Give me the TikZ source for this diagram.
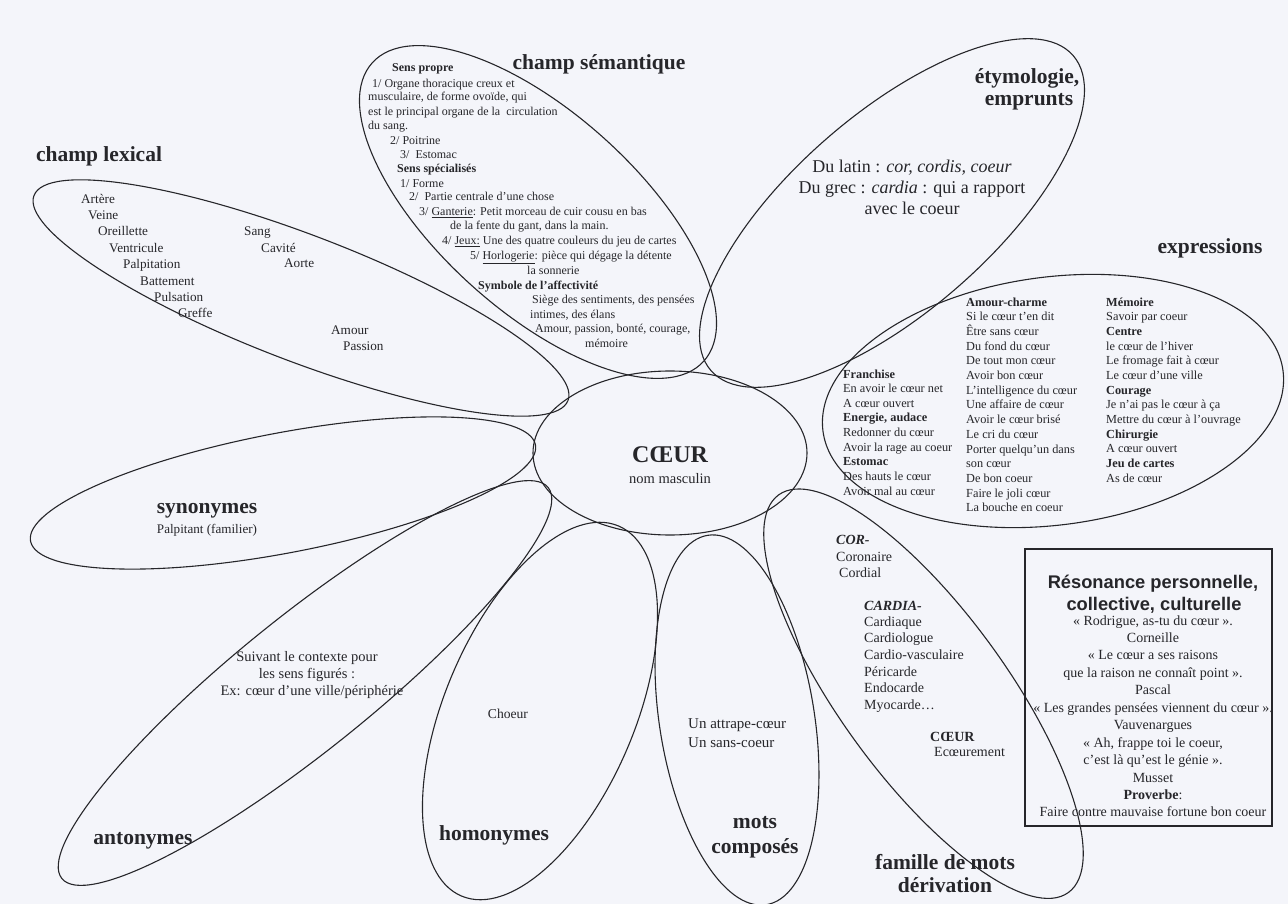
\documentclass[tikz,border=0pt]{standalone}
\usepackage{fontspec}
\setmainfont{Liberation Serif}
\newfontfamily\arialf{Liberation Sans}
\usetikzlibrary{shapes.geometric}
\definecolor{bg}{RGB}{244,245,250}
\definecolor{ink}{RGB}{38,38,42}
\begin{document}
\begin{tikzpicture}[x=1pt,y=-1pt,
  petal/.style={draw=ink, line width=1.1pt, ellipse, inner sep=0pt, outer sep=0pt},
  head/.style={font=\fontsize{21.5}{22}\selectfont\bfseries, text=ink, anchor=base, inner sep=0pt},
  lx/.style={font=\fontsize{13.2}{16}\selectfont, text=ink, anchor=base west, inner sep=0pt},
  cs/.style={font=\fontsize{12}{14}\selectfont, text=ink, anchor=base west, inner sep=0pt},
  ex/.style={font=\fontsize{12.3}{14.7}\selectfont, text=ink, anchor=base west, inner sep=0pt},
  fm/.style={font=\fontsize{14}{16}\selectfont, text=ink, anchor=base west, inner sep=0pt},
  ety/.style={font=\fontsize{18}{21}\selectfont, text=ink, anchor=base, inner sep=0pt},
  rs/.style={font=\fontsize{14}{17}\selectfont, text=ink, anchor=base, inner sep=0pt},
  rt/.style={font=\arialf\fontsize{18.3}{22}\selectfont\bfseries, text=ink, anchor=base, inner sep=0pt},
  ct/.style={font=\fontsize{14.5}{17}\selectfont, text=ink, anchor=base, inner sep=0pt}
]
\fill[bg] (0,0) rectangle (1288,904);
\useasboundingbox (0,0) rectangle (1288,904);

% petals
\node[petal, minimum width=572, minimum height=126, rotate=-21] (lexical) at (301,298) {};
\node[petal, minimum width=446, minimum height=198, rotate=-42] (semantique) at (538,212) {};
\node[petal, minimum width=480, minimum height=198, rotate=41] (etymo) at (892,213) {};
\node[petal, minimum width=464, minimum height=248, rotate=7.5] (expr) at (1053,401) {};
\node[petal, minimum width=514, minimum height=120, rotate=10.8] (syno) at (283,493) {};
\node[petal, minimum width=624, minimum height=134, rotate=38.8] (anto) at (305,683) {};
\node[petal, minimum width=402, minimum height=190, rotate=67] (homo) at (540,711) {};
\node[petal, minimum width=374, minimum height=155, rotate=99] (mots) at (737,720) {};
\node[petal, minimum width=492, minimum height=166, rotate=-53.9] (famille) at (923.5,693.7) {};
\node[petal, minimum width=274, minimum height=164] (coeur) at (670,453) {};

% centre
\node[font=\fontsize{24}{26}\selectfont\bfseries, text=ink, anchor=base, inner sep=0pt] (ctitle) at (670,462) {CŒUR};
\node[ct] (csub) at (670,483) {nom masculin};

% headings
\node[head] (hlex) at (99,162) {champ lexical};
\node[head] (hsem) at (599,70) {champ sémantique};
\node[head] (hety1) at (1027,84) {étymologie,};
\node[head] (hety2) at (1029,106) {emprunts};
\node[head] (hexp) at (1210,254) {expressions};
\node[head] (hsyn) at (207,513) {synonymes};
\node[head] (hant) at (143,844) {antonymes};
\node[head] (hhom) at (494,840) {homonymes};
\node[head] (hmot1) at (755,828) {mots};
\node[head] (hmot2) at (755,853) {composés};
\node[head] (hfam1) at (945,869) {famille de mots};
\node[head] (hfam2) at (945,892) {dérivation};

% champ lexical
\node[lx] (l1) at (81,204) {Artère};
\node[lx] (l2) at (88,220) {Veine};
\node[lx] (l3) at (98,236) {Oreillette};
\node[lx] (l4) at (109,253) {Ventricule};
\node[lx] (l5) at (123,269) {Palpitation};
\node[lx] (l6) at (140,285) {Battement};
\node[lx] (l7) at (154,301) {Pulsation};
\node[lx] (l8) at (178,317) {Greffe};
\node[lx] (l9) at (244,236) {Sang};
\node[lx] (l10) at (261,252) {Cavité};
\node[lx] (l11) at (284,268) {Aorte};
\node[lx] (l12) at (331,334) {Amour};
\node[lx] (l13) at (343,350) {Passion};

% champ semantique
\node[cs] (s1) at (392,72) {\textbf{Sens propre}};
\node[cs] (s2) at (372,88) {1/ Organe thoracique creux et};
\node[cs] (s3) at (368,101) {musculaire, de forme ovoïde, qui};
\node[cs] (s4) at (368,116) {est le principal organe de la\ \ circulation};
\node[cs] (s5) at (368,130) {du sang.};
\node[cs] (s6) at (390,145) {2/ Poitrine};
\node[cs] (s7) at (400,159) {3/\ \ Estomac};
\node[cs] (s8) at (397,173) {\textbf{Sens spécialisés}};
\node[cs] (s9) at (400,188) {1/ Forme};
\node[cs] (s10) at (409,201) {2/\ \ Partie centrale d’une chose};
\node[cs] (s11) at (419,216) {3/ \underline{Ganterie}: Petit morceau de cuir cousu en bas};
\node[cs] (s12) at (450,230) {de la fente du gant, dans la main.};
\node[cs] (s13) at (442,245) {4/ \underline{Jeux:} Une des quatre couleurs du jeu de cartes};
\node[cs] (s14) at (470,259) {5/ \underline{Horlogerie}: pièce qui dégage la détente};
\node[cs] (s15) at (527,275) {la sonnerie};
\node[cs] (s16) at (478,289) {\textbf{Symbole de l’affectivité}};
\node[cs] (s17) at (532,303) {Siège des sentiments, des pensées};
\node[cs] (s18) at (530,318) {intimes, des élans};
\node[cs] (s19) at (535,332) {Amour, passion, bonté, courage,};
\node[cs] (s20) at (585,347) {mémoire};

% etymologie
\node[ety] (e1) at (912,173) {Du latin : \textit{cor, cordis, coeur}};
\node[ety] (e2) at (912,194) {Du grec : \textit{cardia} : qui a rapport};
\node[ety] (e3) at (912,215) {avec le coeur};

% expressions
\foreach [count=\i from 0] \t in {{\textbf{Franchise}},{En avoir le cœur net},{A cœur ouvert},{\textbf{Energie, audace}},{Redonner du cœur},{Avoir la rage au coeur},{\textbf{Estomac}},{Des hauts le cœur},{Avoir mal au cœur}}
  \node[ex] (xa\i) at (843,378+\i*14.65) {\t};
\foreach [count=\i from 0] \t in {{\textbf{Amour-charme}},{Si le cœur t’en dit},{Être sans cœur},{Du fond du cœur},{De tout mon cœur},{Avoir bon cœur},{L’intelligence du cœur},{Une affaire de cœur},{Avoir le cœur brisé},{Le cri du cœur},{Porter quelqu’un dans},{son cœur},{De bon coeur},{Faire le joli cœur},{La bouche en coeur}}
  \node[ex] (xb\i) at (966,306+\i*14.7) {\t};
\foreach [count=\i from 0] \t in {{\textbf{Mémoire}},{Savoir par coeur},{\textbf{Centre}},{le cœur de l’hiver},{Le fromage fait à cœur},{Le cœur d’une ville},{\textbf{Courage}},{Je n’ai pas le cœur à ça},{Mettre du cœur à l’ouvrage},{\textbf{Chirurgie}},{A cœur ouvert},{\textbf{Jeu de cartes}},{As de cœur}}
  \node[ex] (xc\i) at (1106,306+\i*14.67) {\t};

% synonymes / antonymes / homonymes / mots composes
\node[font=\fontsize{13.1}{15}\selectfont, text=ink, anchor=base, inner sep=0pt] (syn1) at (207,533) {Palpitant (familier)};
\node[ct] (a1) at (307,661) {Suivant le contexte pour};
\node[ct] (a2) at (307,678) {les sens figurés :};
\node[ct] (a3) at (312,695) {Ex: cœur d’une ville/périphérie};
\node[font=\fontsize{13.6}{15}\selectfont, text=ink, anchor=base, inner sep=0pt] (h1) at (508,718) {Choeur};
\node[font=\fontsize{15}{19}\selectfont, text=ink, anchor=base west, inner sep=0pt] (m1) at (688,728) {Un attrape-cœur};
\node[font=\fontsize{15}{19}\selectfont, text=ink, anchor=base west, inner sep=0pt] (m2) at (688,747) {Un sans-coeur};

% famille de mots
\node[fm] (f1) at (836,544) {\textbf{\textit{COR-}}};
\node[fm] (f2) at (836,561) {Coronaire};
\node[fm] (f3) at (839,577) {Cordial};
\node[fm] (f4) at (864,610) {\textbf{\textit{CARDIA-}}};
\node[fm] (f5) at (864,626) {Cardiaque};
\node[fm] (f6) at (864,642) {Cardiologue};
\node[fm] (f7) at (864,659) {Cardio-vasculaire};
\node[fm] (f8) at (864,676) {Péricarde};
\node[fm] (f9) at (864,692) {Endocarde};
\node[fm] (f10) at (864,709) {Myocarde…};
\node[fm] (f11) at (930,741) {\textbf{CŒUR}};
\node[fm] (f12) at (934,756) {Ecœurement};

% resonance box
\node[draw=ink, line width=1.1pt, minimum width=247, minimum height=277, inner sep=0pt] (reso) at (1148.5,687.5) {};
\node[rt] (r1) at (1153,588) {Résonance personnelle,};
\node[rt] (r2) at (1154,610) {collective, culturelle};
\foreach [count=\i from 0] \t in {{« Rodrigue, as-tu du cœur ».},{Corneille},{« Le cœur a ses raisons},{que la raison ne connaît point ».},{Pascal},{« Les grandes pensées viennent du cœur ».},{Vauvenargues},{« Ah, frappe toi le coeur,},{c’est là qu’est le génie ».},{Musset},{\textbf{Proverbe}:},{Faire contre mauvaise fortune bon coeur}}
  \node[rs] (rb\i) at (1153,625+\i*17.45) {\t};
\end{tikzpicture}
\end{document}
